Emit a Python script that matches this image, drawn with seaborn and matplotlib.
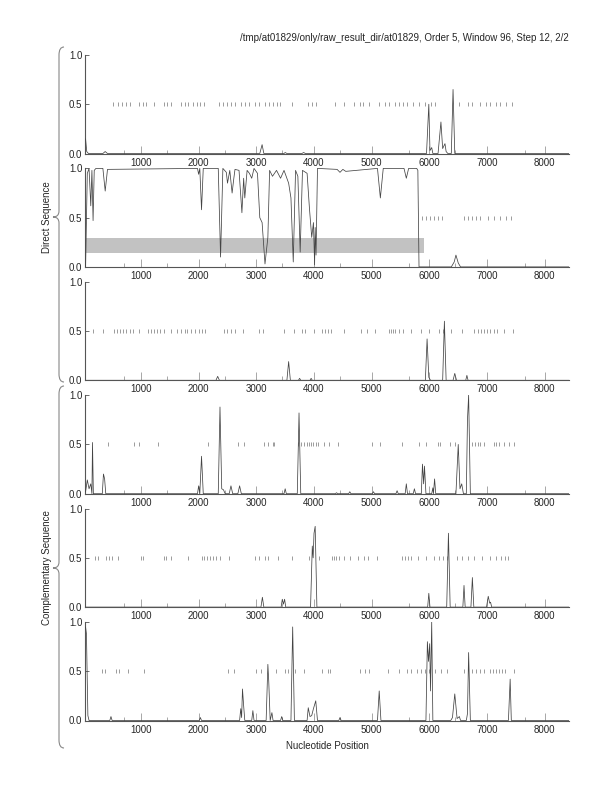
import numpy as np
import pandas as pd
import matplotlib
matplotlib.use("Agg")
import matplotlib.pyplot as plt
from matplotlib.path import Path
from matplotlib.patches import PathPatch
from matplotlib.ticker import FixedLocator, FormatStrFormatter
import seaborn as sns

## data ##

title = "/tmp/at01829/only/raw_result_dir/at01829, Order 5, Window 96, Step 12, 2/2"
x_major = [1000, 2000, 3000, 4000, 5000, 6000, 7000, 8000]
x_minor = [700, 1450, 2450, 3450, 4450, 5650, 6450, 7650]
y_ticks = [0.0, 0.5, 1.0]
seq_end = 8420

# coding potential, one list of (position, value) per frame
frame1 = [(40, .15), (60, .02), (90, 0), (340, 0), (380, .02), (420, 0),
          (3060, 0), (3100, .09), (3130, 0), (3480, 0), (3500, .01), (3530, 0),
          (3790, 0), (3820, .01), (3850, 0), (5950, 0), (5990, .5), (6010, .03),
          (6040, .06), (6060, 0), (6150, 0), (6200, .32), (6230, .05), (6270, .1),
          (6290, .02), (6320, 0), (6380, 0), (6410, .65), (6440, 0), (8420, 0)]
frame2 = [(40, 0), (70, .95), (100, 1), (130, .62), (150, .98), (170, .47), (190, .98),
          (220, 1), (340, 1), (380, .77), (420, .99), (1980, 1), (2000, .94), (2020, 1),
          (2050, .58), (2080, 1), (2340, 1), (2380, .1), (2420, 1), (2480, .96),
          (2500, .85), (2540, .98), (2580, .75), (2610, .9), (2630, .99), (2700, .98),
          (2750, .55), (2780, .9), (2800, .7), (2840, .98), (2880, .95), (2920, .9),
          (2960, 1), (3020, .95), (3060, .5), (3100, .45), (3150, .03), (3200, .3),
          (3230, .98), (3280, .92), (3350, .98), (3420, .9), (3480, .98), (3560, .85),
          (3600, .7), (3640, .05), (3680, .98), (3720, .92), (3760, .15), (3800, .98),
          (3880, .95), (3920, .6), (3960, .3), (3990, .45), (4010, .02), (4020, .4),
          (4035, .12), (4060, 1), (4400, .99), (4450, .96), (4500, .99), (4550, .97),
          (5100, 1), (5150, .7), (5200, 1), (5560, 1), (5600, .9), (5640, 1),
          (5780, 1), (5800, .98), (5820, 0), (6380, 0), (6430, .05), (6460, .12),
          (6500, .04), (6540, 0), (8420, 0)]
frame3 = [(40, 0), (2300, 0), (2330, .04), (2360, 0), (3530, 0), (3560, .19), (3590, 0),
          (3730, 0), (3750, .02), (3770, 0), (3930, 0), (3950, .02), (3970, 0),
          (5930, 0), (5960, .42), (5990, .03), (6020, 0), (6230, 0), (6260, .6),
          (6290, 0), (6410, 0), (6440, .07), (6470, 0), (6630, 0), (6650, .05),
          (6670, 0), (8420, 0)]
frame4 = [(40, .02), (70, .14), (100, .05), (130, .1), (150, 0), (160, .52), (175, 0),
          (330, 0), (350, .2), (370, .15), (390, 0), (1980, 0), (2000, .08), (2020, 0),
          (2050, .38), (2080, 0), (2340, 0), (2370, .88), (2400, .05), (2430, .04),
          (2460, 0), (2530, 0), (2560, .08), (2590, 0), (2680, 0), (2710, .08),
          (2740, 0), (3480, 0), (3500, .05), (3520, 0), (3710, 0), (3740, .82),
          (3770, 0), (4370, 0), (4390, .01), (4410, 0), (4600, 0), (4620, .02),
          (4640, 0), (5010, 0), (5030, .02), (5050, 0), (5420, 0), (5440, .03),
          (5460, 0), (5580, 0), (5600, .1), (5620, 0), (5720, 0), (5740, .05),
          (5760, 0), (5860, 0), (5880, .3), (5900, .1), (5915, .28), (5940, 0),
          (6040, 0), (6060, .06), (6070, 0), (6090, .15), (6110, 0), (6460, 0),
          (6500, .5), (6530, .05), (6560, .1), (6590, 0), (6640, 0), (6660, .75),
          (6680, 1.0), (6710, 0), (8420, 0)]
frame5 = [(40, 0), (3080, 0), (3105, .1), (3130, 0), (3430, 0), (3450, .08), (3470, .03),
          (3490, .08), (3510, 0), (3940, 0), (3970, .62), (3985, .5), (4000, .75),
          (4020, .82), (4050, 0), (5970, 0), (5990, .14), (6010, 0), (6300, 0),
          (6330, .75), (6360, 0), (6580, 0), (6600, .22), (6620, 0), (6720, 0),
          (6745, .3), (6770, 0), (6990, 0), (7020, .11), (7045, .04), (7060, .05),
          (7080, 0), (8420, 0)]
frame6 = [(40, .95), (55, .88), (80, .05), (100, 0), (460, 0), (480, .04), (500, 0),
          (2010, 0), (2030, .03), (2050, 0), (2710, 0), (2730, .12), (2745, .03),
          (2760, .32), (2780, .15), (2800, 0), (2920, 0), (2940, .1), (2960, 0),
          (3170, 0), (3200, .57), (3215, .4), (3240, 0), (3270, .08), (3290, 0),
          (3420, 0), (3440, .04), (3460, 0), (3600, 0), (3630, .95), (3660, 0),
          (3880, 0), (3900, .13), (3930, .04), (3960, .05), (3990, .12), (4030, .2),
          (4060, 0), (4430, 0), (4450, .03), (4470, 0), (5100, 0), (5130, .3),
          (5160, 0), (5940, 0), (5965, .8), (5985, .6), (6005, .78), (6020, .3),
          (6040, 1.0), (6060, 0), (6370, 0), (6400, .03), (6440, .27), (6480, .02),
          (6520, .04), (6540, 0), (6640, 0), (6660, .07), (6680, .69), (6710, 0),
          (7370, 0), (7400, .42), (7420, 0), (8420, 0)]

# stop codon marks drawn at 0.5
stops1 = [513, 602, 670, 739, 808, 959, 1027, 1082, 1233, 1391, 1460, 1528, 1700, 1769,
          1824, 1906, 1975, 2030, 2098, 2352, 2421, 2489, 2558, 2627, 2730, 2798, 2867,
          2970, 3038, 3155, 3224, 3292, 3361, 3416, 3622, 3896, 3965, 4034, 4363, 4514,
          4686, 4789, 4857, 4960, 5132, 5235, 5303, 5406, 5475, 5544, 5612, 5715, 5818,
          5921, 6024, 6093, 6505, 6676, 6745, 6882, 6985, 7053, 7156, 7225, 7328, 7431]
stops2 = [5873, 5942, 6010, 6079, 6147, 6216, 6607, 6676, 6745, 6813, 6882, 7019, 7122,
          7225, 7328, 7410]
stops3 = [176, 341, 533, 581, 636, 691, 739, 808, 863, 959, 1117, 1172, 1220, 1275, 1323,
          1391, 1528, 1618, 1700, 1755, 1803, 1872, 1940, 2009, 2057, 2112, 2441, 2496,
          2558, 2627, 2764, 3038, 3107, 3471, 3656, 3793, 3841, 3999, 4137, 4185, 4240,
          4294, 4514, 4823, 4926, 5063, 5303, 5338, 5372, 5406, 5475, 5544, 5681, 5853,
          5990, 6161, 6230, 6367, 6573, 6779, 6834, 6903, 6951, 6999, 7053, 7122, 7170,
          7293, 7444]
stops4 = [424, 882, 971, 1294, 2170, 2690, 2794, 3140, 3206, 3282, 3310, 3730, 3780,
          3830, 3870, 3912, 3953, 3988, 4029, 4070, 4176, 4265, 4412, 5000, 5147, 5529,
          5812, 5941, 6147, 6188, 6365, 6441, 6735, 6794, 6835, 6882, 6953, 7118, 7159,
          7206, 7294, 7382, 7459]
stops5 = [211, 259, 396, 451, 499, 602, 1000, 1027, 1391, 1439, 1528, 1824, 2057, 2098,
          2146, 2194, 2249, 2304, 2373, 2524, 2970, 3038, 3155, 3210, 3382, 3622, 3910,
          4089, 4308, 4342, 4377, 4432, 4514, 4617, 4754, 4871, 4940, 5098, 5530, 5578,
          5626, 5681, 5804, 5942, 6079, 6161, 6230, 6299, 6470, 6573, 6676, 6779, 6916,
          7053, 7156, 7246, 7314, 7362]
stops6 = [327, 382, 568, 623, 774, 1048, 2503, 2606, 2990, 3087, 3334, 3498, 3553, 3677,
          3828, 4137, 4240, 4274, 4802, 4892, 4960, 5283, 5475, 5612, 5681, 5784, 5853,
          5921, 5990, 6093, 6196, 6299, 6607, 6745, 6813, 6882, 6951, 7053, 7108, 7156,
          7204, 7259, 7314, 7465]

# predicted gene region in frame 2
gene_start, gene_end = 30, 5907
gene_low, gene_high = 0.145, 0.29

frames = [frame1, frame2, frame3, frame4, frame5, frame6]
stops = [stops1, stops2, stops3, stops4, stops5, stops6]

## plotting ##

sns.set_style("ticks")
plt.rcParams['font.family'] = ['Liberation Sans', 'DejaVu Sans']

W, H = 612, 792
fig = plt.figure(figsize=(W / 100, H / 100), dpi=100)


def fx(px):
    return px / W


def fy(py):
    return 1 - py / H


ax_left, ax_right = 85, 569
for i, (frame, stop) in enumerate(zip(frames, stops)):
    top = 55 + 113.4 * i
    ax = fig.add_axes([fx(ax_left), fy(top + 98.5), (ax_right - ax_left) / W, 98.5 / H])
    df = pd.DataFrame(frame, columns=['pos', 'score'])

    if i == 1:
        ax.fill_between([gene_start, gene_end], gene_low, gene_high,
                        color='#c2c2c2', lw=0, zorder=1)

    ax.vlines(stop, 0.48, 0.52, color='#8c8c8c', lw=0.6, zorder=2)
    sns.lineplot(data=df, x='pos', y='score', ax=ax, color='#444444', lw=0.55,
                 sort=False, estimator=None, zorder=3)

    ax.set_xlim(30, seq_end)
    ax.set_ylim(0, 1.0)
    ax.set_xlabel('')
    ax.set_ylabel('')
    sns.despine(ax=ax)
    for s in ['left', 'bottom']:
        ax.spines[s].set_color('#555555')
        ax.spines[s].set_linewidth(0.8)
    ax.xaxis.set_major_locator(FixedLocator(x_major))
    ax.xaxis.set_minor_locator(FixedLocator(x_minor))
    ax.yaxis.set_major_locator(FixedLocator(y_ticks))
    ax.yaxis.set_major_formatter(FormatStrFormatter('%.1f'))
    ax.tick_params(axis='x', which='major', direction='in', length=6, width=0.6,
                   color='#999999', labelsize=7, pad=3)
    ax.tick_params(axis='x', which='minor', direction='in', length=3, width=0.6,
                   color='#999999')
    ax.tick_params(axis='y', direction='in', length=3, width=0.6, color='#555555',
                   labelsize=7, pad=2)
    ax.patch.set_alpha(0)


def brace(y0, ym, y1):
    xs, xi, xp = 64, 59, 53
    verts = [(xs, y0), (xi, y0), (xi, y0 + 8),
             (xi, ym - 6), (xi, ym), (xp, ym),
             (xi, ym), (xi, ym + 6),
             (xi, y1 - 8), (xi, y1), (xs, y1)]
    codes = [Path.MOVETO, Path.CURVE3, Path.CURVE3,
             Path.LINETO, Path.CURVE3, Path.CURVE3,
             Path.CURVE3, Path.CURVE3,
             Path.LINETO, Path.CURVE3, Path.CURVE3]
    verts = [(fx(a), fy(b)) for a, b in verts]
    fig.patches.append(PathPatch(Path(verts, codes), transform=fig.transFigure,
                                 fill=False, ec='#888888', lw=0.8))


brace(47, 217, 382)
brace(386, 568, 748)

fig.text(fx(47), fy(217), 'Direct Sequence', rotation=90, ha='center', va='center', fontsize=7)
fig.text(fx(47), fy(568), 'Complementary Sequence', rotation=90, ha='center', va='center', fontsize=7)
fig.text(fx(569), fy(38), title, ha='right', va='center', fontsize=7)
fig.text(fx(327), fy(746), 'Nucleotide Position', ha='center', va='center', fontsize=7)

fig.savefig('out.png', dpi=100)
